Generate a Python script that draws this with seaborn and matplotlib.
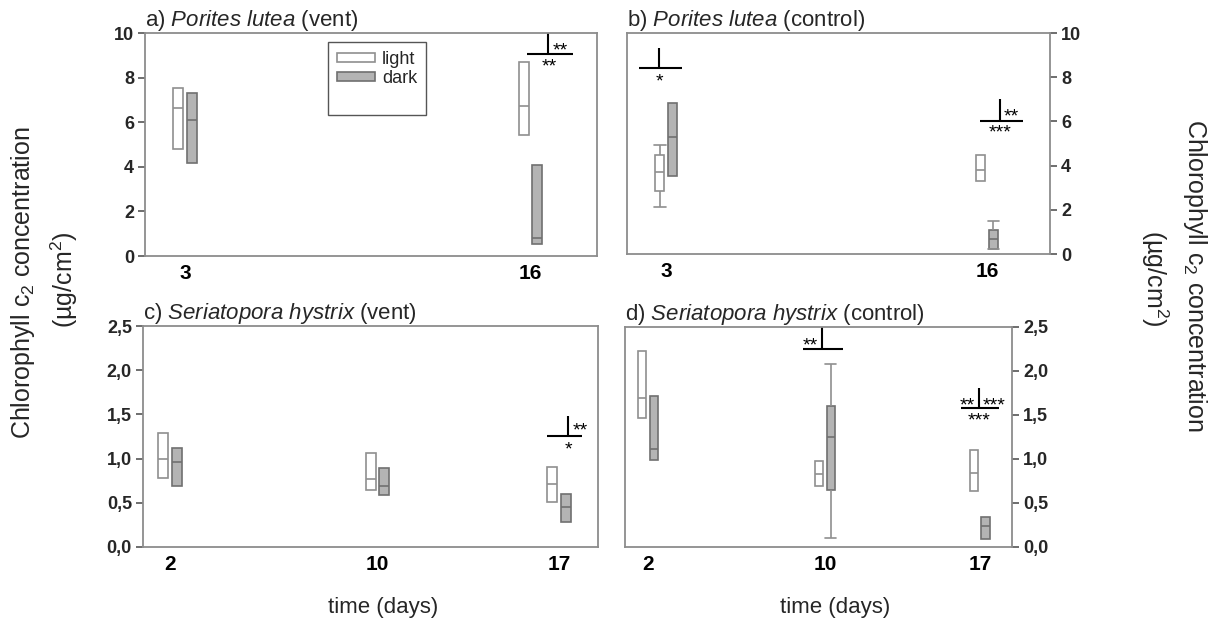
import numpy as np
import pandas as pd
import matplotlib
matplotlib.use("Agg")
import matplotlib.pyplot as plt
from matplotlib.patches import Patch
from matplotlib.lines import Line2D
from matplotlib.transforms import offset_copy
import seaborn as sns

# ---------------- data (lower whisker, Q1, median, Q3, upper whisker) ----------------
A_DAYS = [3, 16]
A_LIGHT = [[4.79, 4.79, 6.63, 7.53, 7.53], [5.43, 5.43, 6.74, 8.70, 8.70]]
A_DARK = [[4.16, 4.16, 6.08, 7.31, 7.31], [0.52, 0.52, 0.79, 4.06, 4.06]]

B_DAYS = [3, 16]
B_LIGHT = [[2.11, 2.85, 3.72, 4.46, 4.91], [3.30, 3.30, 3.80, 4.47, 4.47]]
B_DARK = [[3.52, 3.52, 5.29, 6.84, 6.84], [0.21, 0.24, 0.70, 1.10, 1.50]]

C_DAYS = [2, 10, 17]
C_LIGHT = [[0.78, 0.78, 1.00, 1.29, 1.29], [0.65, 0.65, 0.77, 1.06, 1.06],
           [0.51, 0.51, 0.71, 0.91, 0.91]]
C_DARK = [[0.69, 0.69, 0.96, 1.125, 1.125], [0.585, 0.585, 0.69, 0.89, 0.89],
          [0.28, 0.28, 0.45, 0.60, 0.60]]

D_DAYS = [2, 10, 17]
D_LIGHT = [[1.47, 1.47, 1.69, 2.23, 2.23], [0.69, 0.69, 0.83, 0.98, 0.98],
           [0.64, 0.64, 0.84, 1.10, 1.10]]
D_DARK = [[0.99, 0.99, 1.11, 1.72, 1.72], [0.10, 0.65, 1.25, 1.60, 2.08],
          [0.09, 0.09, 0.24, 0.34, 0.34]]

CONDITIONS = ["light", "dark"]
YTICKS_AB = [0, 2, 4, 6, 8, 10]
YTICK_LABELS_AB = ["0", "2", "4", "6", "8", "10"]
YTICKS_CD = [0, 0.5, 1.0, 1.5, 2.0, 2.5]
YTICK_LABELS_CD = ["0,0", "0,5", "1,0", "1,5", "2,0", "2,5"]

TITLES = [r"a) $\mathit{Porites\ lutea}$ (vent)",
          r"b) $\mathit{Porites\ lutea}$ (control)",
          r"c) $\mathit{Seriatopora\ hystrix}$ (vent)",
          r"d) $\mathit{Seriatopora\ hystrix}$ (control)"]

# significance brackets: (x vertical, x_left, x_right, y_h, y_top, [(x, y, text, ha), ...])
SIG_A = [(16.66, 15.87, 17.6, 9.06, 10.0,
          [(16.85, 9.42, "**", "left"), (16.70, 8.68, "**", "center")])]
SIG_B = [(2.72, 1.9, 3.65, 8.42, 9.32, [(2.72, 8.0, "*", "center")]),
         (16.53, 15.72, 17.45, 6.02, 7.01,
          [(16.69, 6.43, "**", "left"), (16.53, 5.68, "***", "center")])]
SIG_C = [(17.35, 16.54, 17.88, 1.256, 1.48,
          [(17.52, 1.36, "**", "left"), (17.35, 1.15, "*", "center")])]
SIG_D = [(9.86, 9.0, 10.81, 2.25, 2.5, [(9.66, 2.34, "**", "right")]),
         (16.96, 16.14, 17.86, 1.58, 1.81,
          [(16.76, 1.66, "**", "right"), (17.12, 1.66, "***", "left"),
           (16.96, 1.48, "***", "center")])]

# ---------------- style ----------------
sns.set_theme(style="ticks")
plt.rcParams["font.family"] = ["Liberation Sans", "DejaVu Sans"]
plt.rcParams["mathtext.fontset"] = "custom"
plt.rcParams["mathtext.rm"] = "Liberation Sans"
plt.rcParams["mathtext.it"] = "Liberation Sans:italic"
plt.rcParams["mathtext.bf"] = "Liberation Sans:bold"

W, H = 1214, 623
PAIR_WIDTH = 1.04
GAP = 0.27
CAP_WIDTH = 0.48  # in days
LIGHT_FILL, DARK_FILL = "white", "#b4b4b4"
EDGE = "#8f8f8f"
DARK_EDGE = "#707070"
SPINE = "#8c8c8c"
STAR_SIZE = 14

fig = plt.figure(figsize=(W / 100, H / 100), dpi=100)


def rect(x0, y0, x1, y1):
    return [x0 / W, 1 - y1 / H, (x1 - x0) / W, (y1 - y0) / H]


def frame(days, light, dark):
    rows = []
    for cond, stats in (("light", light), ("dark", dark)):
        for d, s in zip(days, stats):
            for v in s:
                rows.append({"day": d, "cond": cond, "value": v})
    return pd.DataFrame(rows)


def tidy_boxes(ax):
    boxes = []
    for p in ax.patches:
        bb = p.get_path().get_extents()
        dark = p.get_facecolor()[0] < 0.9
        if dark:
            p.set_edgecolor(DARK_EDGE)
        boxes.append((bb, dark))
    for ln in ax.lines:
        x = np.asarray(ln.get_xdata(), float)
        y = np.asarray(ln.get_ydata(), float)
        if len(x) != 2 or not np.isclose(y[0], y[1]):
            continue
        xc, yv, wd = x.mean(), y[0], abs(x[1] - x[0])
        for bb, dark in boxes:
            if not (bb.x0 <= xc <= bb.x1):
                continue
            if abs(wd - CAP_WIDTH) < 1e-6:
                # cap of a zero-length whisker: hide
                if np.isclose(yv, bb.y0) or np.isclose(yv, bb.y1):
                    ln.set_visible(False)
            elif dark and bb.y0 < yv < bb.y1:
                ln.set_color(DARK_EDGE)


def draw(ax, days, light, dark, xlim, yticks, ylabels, title, right, sigs):
    df = frame(days, light, dark)
    native = np.min(np.diff(np.unique(days)))
    sns.boxplot(data=df, x="day", y="value", hue="cond", hue_order=CONDITIONS,
                native_scale=True, width=PAIR_WIDTH / native, gap=GAP,
                palette={"light": LIGHT_FILL, "dark": DARK_FILL},
                linecolor=EDGE, linewidth=1.2, fliersize=0, whis=1.5,
                capwidths=CAP_WIDTH, legend=False, ax=ax)
    tidy_boxes(ax)
    ax.set_xlim(*xlim)
    ax.set_ylim(yticks[0], yticks[-1])
    ax.set_xticks(days)
    ax.set_xticklabels([str(d) for d in days], fontsize=15, fontweight="bold")
    ax.set_yticks(yticks)
    ax.set_yticklabels(ylabels, fontsize=13, fontweight="bold")
    ax.set_xlabel("")
    ax.set_ylabel("")
    ax.tick_params(axis="x", length=0, pad=6, colors="black")
    ax.tick_params(axis="y", length=5, width=1.2, color="#555555", pad=3)
    if right:
        ax.yaxis.tick_right()
    for sp in ax.spines.values():
        sp.set_visible(True)
        sp.set_color(SPINE)
        sp.set_linewidth(1.3)
    ax.set_title(title, loc="left", fontsize=16, pad=2)
    star_tr = offset_copy(ax.transData, fig=fig, y=-0.24 * STAR_SIZE, units="points")
    for xv, xl, xr, yh, yt, texts in sigs:
        ax.plot([xl, xr], [yh, yh], color="black", lw=1.5, clip_on=False,
                solid_capstyle="butt")
        ax.plot([xv, xv], [yh, yt], color="black", lw=1.5, clip_on=False,
                solid_capstyle="butt")
        for tx, ty, s, ha in texts:
            ax.text(tx, ty, s, ha=ha, va="center", fontsize=STAR_SIZE, color="black",
                    transform=star_tr)


ax_a = fig.add_axes(rect(145, 33, 597, 256))
ax_b = fig.add_axes(rect(627, 33, 1050, 254))
ax_c = fig.add_axes(rect(143, 326, 598, 547))
ax_d = fig.add_axes(rect(625, 327, 1012, 547))

draw(ax_a, A_DAYS, A_LIGHT, A_DARK, (1.5, 18.5), YTICKS_AB, YTICK_LABELS_AB,
     TITLES[0], False, SIG_A)
draw(ax_b, B_DAYS, B_LIGHT, B_DARK, (1.42, 18.55), YTICKS_AB, YTICK_LABELS_AB,
     TITLES[1], True, SIG_B)
draw(ax_c, C_DAYS, C_LIGHT, C_DARK, (0.96, 18.5), YTICKS_CD, YTICK_LABELS_CD,
     TITLES[2], False, SIG_C)
draw(ax_d, D_DAYS, D_LIGHT, D_DARK, (0.96, 18.45), YTICKS_CD, YTICK_LABELS_CD,
     TITLES[3], True, SIG_D)

# legend in panel a
handles = [Patch(facecolor=LIGHT_FILL, edgecolor=EDGE, linewidth=1.2),
           Patch(facecolor=DARK_FILL, edgecolor=DARK_EDGE, linewidth=1.2),
           Line2D([], [], linestyle="none")]
leg = ax_a.legend(handles, CONDITIONS + [" "], loc="upper left",
                  bbox_to_anchor=(328 / W, 1 - 42 / H), bbox_transform=fig.transFigure,
                  fontsize=13, frameon=True, fancybox=False, framealpha=1,
                  edgecolor="#555555", handlelength=2.1, handleheight=0.4,
                  labelspacing=0.12, borderpad=0.5, handletextpad=0.4, borderaxespad=0)
leg.get_frame().set_linewidth(1.0)

# axis labels
fig.text(23 / W, 1 - 283 / H, "Chlorophyll c$_2$ concentration", rotation=90,
         ha="center", va="center", fontsize=18)
fig.text(64 / W, 1 - 280 / H, "(µg/cm$^2$)", rotation=90,
         ha="center", va="center", fontsize=18)
fig.text(1195 / W, 1 - 275 / H, "Chlorophyll c$_2$ concentration", rotation=270,
         ha="center", va="center", fontsize=18)
fig.text(1155 / W, 1 - 278 / H, "(µg/cm$^2$)", rotation=270,
         ha="center", va="center", fontsize=18)
fig.text(383 / W, 1 - 608 / H, "time (days)", ha="center", va="center", fontsize=16)
fig.text(835 / W, 1 - 608 / H, "time (days)", ha="center", va="center", fontsize=16)

fig.savefig("out.png", dpi=100)
